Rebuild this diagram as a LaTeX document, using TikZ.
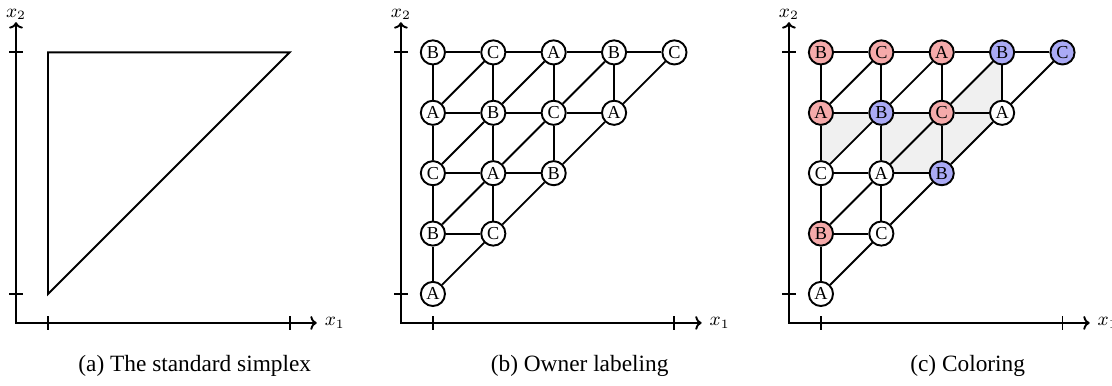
\documentclass[tikz,border=0pt]{standalone}
\usepackage{fontspec}
\setmainfont{Liberation Serif}
\usepackage{amsmath}
\usepackage{tikz}
\usetikzlibrary{positioning,arrows.meta}

\definecolor{ownred}{RGB}{245,170,170}
\definecolor{ownblue}{RGB}{170,170,245}
\definecolor{cellgray}{RGB}{240,240,240}

\tikzset{
  vtx/.style={circle,draw,fill=white,inner sep=0pt,minimum size=0.4cm,font=\fontsize{8.6}{9}\selectfont},
  rv/.style={vtx,fill=ownred},
  bv/.style={vtx,fill=ownblue},
  axislabel/.style={font=\fontsize{9}{10}\selectfont},
  caption/.style={anchor=base,font=\fontsize{11}{13}\selectfont}
}

\newcommand{\drawaxes}{%
  \draw[{To[length=3pt,width=6.5pt]}-{To[length=3pt,width=6.5pt]}] (-0.53,4.5) node[above,axislabel,inner sep=1pt] {$x_2$}
    -- (-0.53,-0.48) -- (4.45,-0.48) node[right,axislabel] {$x_1$};
  \foreach \t in {0,4} {
    \draw (\t,-0.59) -- (\t,-0.37);
    \draw (-0.64,\t) -- (-0.42,\t);
  }
}

\begin{document}
\begin{tikzpicture}[line width=0.9pt]

\useasboundingbox (-0.795,-1.523) rectangle (17.62,4.868);

% (a) the standard simplex
\drawaxes
\draw (0,0) -- (0,4) -- (4,4) -- cycle;
\node[caption] (capa) at (2.43,-1.29) {(a) The standard simplex};

% (b) owner labeling
\begin{scope}[xshift=6.374cm]
\drawaxes
\node[vtx] (b00) at (0,0) {A};
\node[vtx] (b01) at (0,1) {B};
\node[vtx] (b02) at (0,2) {C};
\node[vtx] (b03) at (0,3) {A};
\node[vtx] (b04) at (0,4) {B};
\node[vtx] (b11) at (1,1) {C};
\node[vtx] (b12) at (1,2) {A};
\node[vtx] (b13) at (1,3) {B};
\node[vtx] (b14) at (1,4) {C};
\node[vtx] (b22) at (2,2) {B};
\node[vtx] (b23) at (2,3) {C};
\node[vtx] (b24) at (2,4) {A};
\node[vtx] (b33) at (3,3) {A};
\node[vtx] (b34) at (3,4) {B};
\node[vtx] (b44) at (4,4) {C};
\node[caption] (capb) at (2.43,-1.29) {(b) Owner labeling};
\end{scope}

% (c) coloring
\begin{scope}[xshift=12.80cm]
\fill[cellgray] (0,3) -- (1,3) -- (0,2) -- cycle;
\fill[cellgray] (1,3) -- (1,2) -- (2,2) -- (3,3) -- (3,4) -- (2,3) -- cycle;
\drawaxes
\node[vtx] (c00) at (0,0) {A};
\node[rv]  (c01) at (0,1) {B};
\node[vtx] (c02) at (0,2) {C};
\node[rv]  (c03) at (0,3) {A};
\node[rv]  (c04) at (0,4) {B};
\node[vtx] (c11) at (1,1) {C};
\node[vtx] (c12) at (1,2) {A};
\node[bv]  (c13) at (1,3) {B};
\node[rv]  (c14) at (1,4) {C};
\node[bv]  (c22) at (2,2) {B};
\node[rv]  (c23) at (2,3) {C};
\node[rv]  (c24) at (2,4) {A};
\node[vtx] (c33) at (3,3) {A};
\node[bv]  (c34) at (3,4) {B};
\node[bv]  (c44) at (4,4) {C};
\node[caption] (capc) at (2.43,-1.29) {(c) Coloring};
\end{scope}

% grid edges of (b) and (c)
\foreach \p in {b,c}
  \foreach \u/\v in {00/01,01/02,02/03,03/04,11/12,12/13,13/14,22/23,23/24,33/34,
                     01/11,02/12,12/22,03/13,13/23,23/33,04/14,14/24,24/34,34/44,
                     00/11,11/22,22/33,33/44,01/12,12/23,23/34,02/13,13/24,03/14}
    \draw (\p\u) -- (\p\v);

\end{tikzpicture}
\end{document}
